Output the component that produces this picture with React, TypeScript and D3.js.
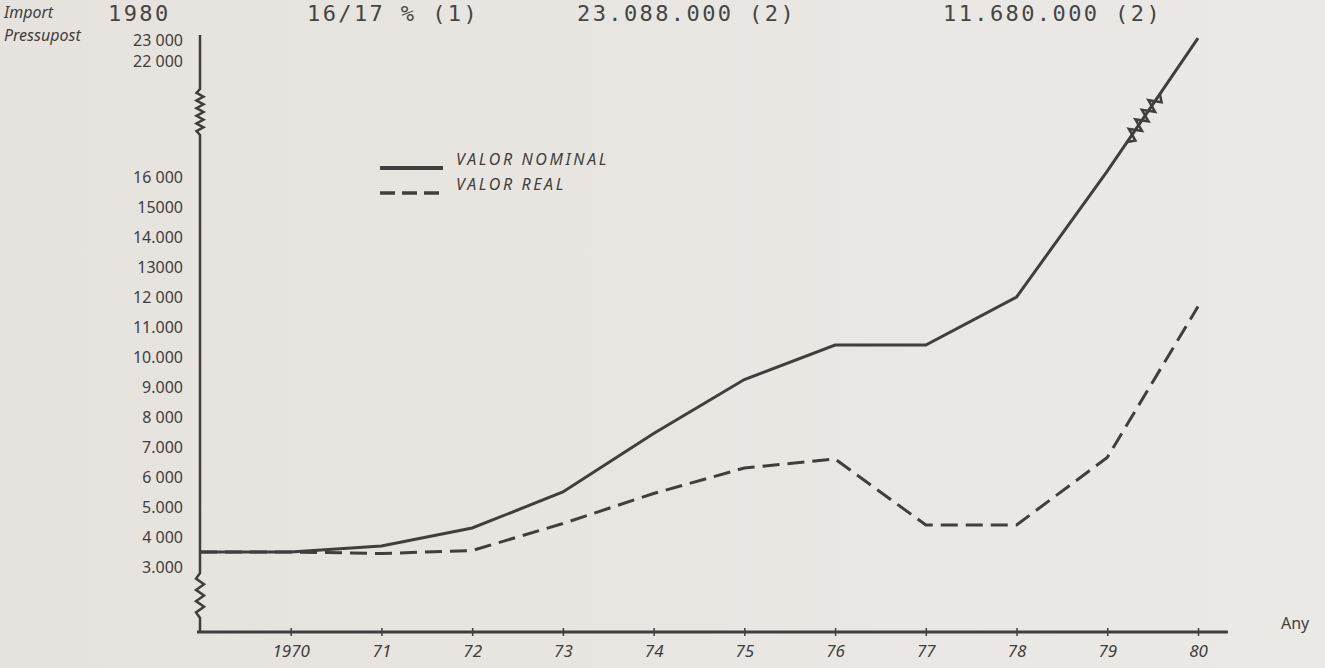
import { useEffect, useRef } from "react"
import * as d3 from "d3"

// 1969 is where both curves leave the vertical axis
const years = [1969, 1970, 1971, 1972, 1973, 1974, 1975, 1976, 1977, 1978, 1979, 1980]
const valorNominal = [3500, 3500, 3700, 4300, 5500, 7450, 9250, 10400, 10400, 12000, 16300, 23088]
const valorReal = [3500, 3500, 3450, 3550, 4450, 5450, 6300, 6600, 4400, 4400, 6650, 11680]

const xTickYears = [1970, 1971, 1972, 1973, 1974, 1975, 1976, 1977, 1978, 1979, 1980]
const xTickLabels = ["1970", "71", "72", "73", "74", "75", "76", "77", "78", "79", "80"]

const yTickValues = [23000, 22000, 16000, 15000, 14000, 13000, 12000, 11000, 10000, 9000, 8000, 7000, 6000, 5000, 4000, 3000]
const yTickLabels = ["23 000", "22 000", "16 000", "15000", "14.000", "13000", "12 000", "11.000", "10.000", "9.000", "8 000", "7.000", "6 000", "5.000", "4 000", "3.000"]

const headerLabels = ["1980", "16/17 % (1)", "23.088.000 (2)", "11.680.000 (2)"]
const legendLabels = ["VALOR NOMINAL", "VALOR REAL"]
const yTitle = ["Import", "Pressupost"]
const xTitle = "Any"

const WIDTH = 1325
const HEIGHT = 668
const INK = "#3f3f3d"
const HAND = "'Noto Sans', 'DejaVu Sans', sans-serif"

// wavy "break" mark along a segment
function zigzag(x0: number, y0: number, x1: number, y1: number, n: number, amp: number) {
  const dx = x1 - x0
  const dy = y1 - y0
  const len = Math.hypot(dx, dy)
  const nx = -dy / len
  const ny = dx / len
  let d = ""
  for (let i = 1; i < n; i++) {
    const t = i / n
    const s = i % 2 ? amp : -amp
    d += `L${x0 + dx * t + nx * s},${y0 + dy * t + ny * s}`
  }
  return d + `L${x1},${y1}`
}

export default function App() {
  const svgRef = useRef<SVGSVGElement>(null)

  useEffect(() => {
    if (!svgRef.current) return
    const root = d3.select(svgRef.current)
    root.selectAll("*").remove()

    const svg = root.attr("width", WIDTH).attr("height", HEIGHT)

    // paper
    const grad = svg.append("defs").append("linearGradient").attr("id", "paper")
    grad.append("stop").attr("offset", "0%").attr("stop-color", "#e6e2de")
    grad.append("stop").attr("offset", "100%").attr("stop-color", "#ebe9e6")
    svg.append("rect").attr("width", WIDTH).attr("height", HEIGHT).attr("fill", "url(#paper)")

    // Scales (the value axis is broken between 16 000 and 22 000)
    const x = d3.scaleLinear().domain([1969, 1980]).range([200, 1198])
    const y = d3
      .scaleLinear()
      .domain([3000, 16000, 22000, 23000])
      .range([567, 177, 61, 40])

    const axisX = x(1969)
    const baseY = 632
    const topY = y(23000) - 5

    // Y axis with both breaks
    const breakTop = y(22000) + 28
    const breakBottom = y(22000) + 74
    const lowBreakTop = y(3000) + 6
    const lowBreakBottom = baseY - 14
    const yAxisPath =
      `M${axisX},${topY}L${axisX},${breakTop}` +
      zigzag(axisX, breakTop, axisX, breakBottom, 12, 3.5) +
      `L${axisX},${lowBreakTop}` +
      zigzag(axisX, lowBreakTop, axisX, lowBreakBottom, 8, 4) +
      `L${axisX},${baseY}`
    svg
      .append("path")
      .attr("d", yAxisPath)
      .attr("fill", "none")
      .attr("stroke", INK)
      .attr("stroke-width", 2.5)

    // Y tick labels
    const yAxis = svg
      .append("g")
      .attr("transform", `translate(${axisX - 17},0)`)
      .call(
        d3
          .axisLeft(y)
          .tickValues(yTickValues)
          .tickSize(0)
          .tickPadding(0)
          .tickFormat((_, i) => yTickLabels[i])
      )
    yAxis.select(".domain").remove()
    yAxis
      .selectAll("text")
      .attr("fill", INK)
      .attr("font-family", HAND)
      .attr("font-size", 16)

    // X axis
    const xAxis = svg
      .append("g")
      .attr("transform", `translate(0,${baseY})`)
      .call(
        d3
          .axisBottom(x)
          .tickValues(xTickYears)
          .tickSize(4)
          .tickPadding(9)
          .tickFormat((_, i) => xTickLabels[i])
      )
    xAxis.select(".domain").remove()
    xAxis.selectAll("line").attr("stroke", INK).attr("stroke-width", 1.5).attr("y1", -4)
    xAxis
      .selectAll("text")
      .attr("fill", INK)
      .attr("font-family", HAND)
      .attr("font-style", "italic")
      .attr("font-size", 17)

    svg
      .append("line")
      .attr("x1", axisX - 3)
      .attr("x2", x(1980.33))
      .attr("y1", baseY)
      .attr("y2", baseY)
      .attr("stroke", INK)
      .attr("stroke-width", 3)

    // Lines
    const line = d3
      .line<number>()
      .x((_, i) => x(years[i]))
      .y(d => y(d))

    svg
      .append("path")
      .datum(valorReal)
      .attr("fill", "none")
      .attr("stroke", INK)
      .attr("stroke-width", 3)
      .attr("stroke-dasharray", "17 8")
      .attr("d", line)

    svg
      .append("path")
      .datum(valorNominal)
      .attr("fill", "none")
      .attr("stroke", INK)
      .attr("stroke-width", 3)
      .attr("d", line)

    // break mark on the nominal line between 79 and 80
    const n = years.length
    const p0 = [x(years[n - 2]), y(valorNominal[n - 2])]
    const p1 = [x(years[n - 1]), y(valorNominal[n - 1])]
    const at = (t: number) => [p0[0] + (p1[0] - p0[0]) * t, p0[1] + (p1[1] - p0[1]) * t]
    const a = at(0.22)
    const b = at(0.58)
    svg
      .append("path")
      .attr("d", `M${a[0]},${a[1]}` + zigzag(a[0], a[1], b[0], b[1], 10, 6))
      .attr("fill", "none")
      .attr("stroke", INK)
      .attr("stroke-width", 2.5)

    // Legend
    const legend = svg.append("g").attr("transform", "translate(380,168)")
    legendLabels.forEach((label, i) => {
      const row = legend.append("g").attr("transform", `translate(0,${i * 25})`)
      row
        .append("line")
        .attr("x1", 0)
        .attr("x2", 63)
        .attr("stroke", INK)
        .attr("stroke-width", i === 0 ? 4 : 3.5)
        .attr("stroke-dasharray", i === 0 ? null : "15 7")
      row
        .append("text")
        .attr("x", 76)
        .attr("y", -3)
        .attr("fill", INK)
        .attr("font-family", HAND)
        .attr("font-style", "italic")
        .attr("font-size", 16)
        .attr("letter-spacing", 2.6)
        .text(label)
    })

    // Typed header
    const headerX = [108, 307, 577, 943]
    svg
      .selectAll(".hdr")
      .data(headerLabels)
      .enter()
      .append("text")
      .attr("class", "hdr")
      .attr("x", (_, i) => headerX[i])
      .attr("y", 21)
      .attr("fill", "#454545")
      .attr("font-family", "'DejaVu Sans Mono', monospace")
      .attr("font-size", 22)
      .attr("letter-spacing", 2.4)
      .text(d => d)

    // Axis titles
    yTitle.forEach((t, i) => {
      svg
        .append("text")
        .attr("x", 4)
        .attr("y", 18 + i * 23)
        .attr("fill", INK)
        .attr("font-family", HAND)
        .attr("font-style", "italic")
        .attr("font-size", 16)
        .text(t)
    })
    svg
      .append("text")
      .attr("x", 1281)
      .attr("y", 629)
      .attr("fill", INK)
      .attr("font-family", HAND)
      .attr("font-size", 16)
      .text(xTitle)
  }, [])

  return (
    <div style={{ position: "fixed", left: 0, top: 0 }}>
      <svg ref={svgRef} style={{ display: "block" }} />
    </div>
  )
}
